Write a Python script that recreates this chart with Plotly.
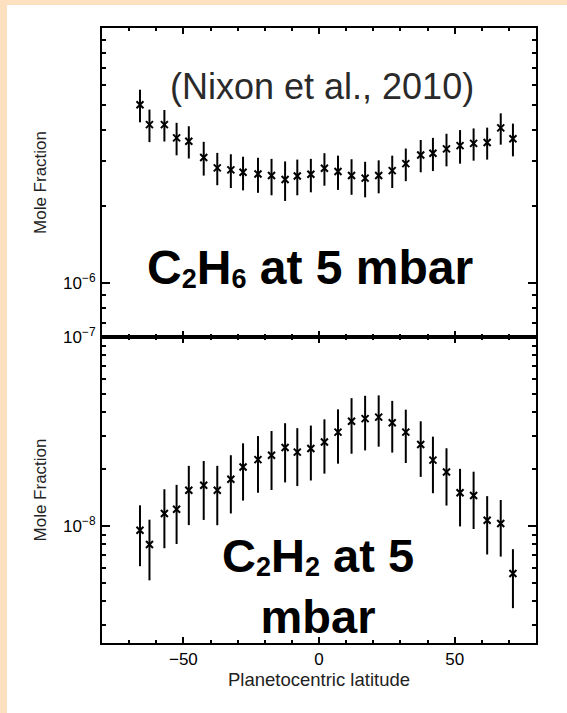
import plotly.graph_objects as go
from plotly.subplots import make_subplots

# ---- data ----
latitude = [-66, -62.5, -57, -52.5, -48, -42.5, -37.5, -32.5, -28, -22.5, -17.5, -12.5, -8, -3,
            2, 7, 12, 17, 22, 27, 32, 37.5, 42, 47, 52, 57, 62, 67, 71.5]

c2h6 = [5.0e-6, 4.18e-6, 4.18e-6, 3.71e-6, 3.60e-6, 3.11e-6, 2.83e-6, 2.78e-6, 2.72e-6, 2.68e-6,
        2.64e-6, 2.55e-6, 2.63e-6, 2.67e-6, 2.82e-6, 2.74e-6, 2.64e-6, 2.58e-6, 2.64e-6, 2.76e-6,
        2.94e-6, 3.18e-6, 3.23e-6, 3.36e-6, 3.46e-6, 3.53e-6, 3.56e-6, 4.06e-6, 3.68e-6]
c2h6_err = [0.73e-6, 0.61e-6, 0.59e-6, 0.54e-6, 0.52e-6, 0.47e-6, 0.41e-6, 0.42e-6, 0.41e-6, 0.42e-6,
            0.43e-6, 0.45e-6, 0.42e-6, 0.40e-6, 0.41e-6, 0.42e-6, 0.42e-6, 0.41e-6, 0.39e-6, 0.40e-6,
            0.43e-6, 0.46e-6, 0.48e-6, 0.49e-6, 0.52e-6, 0.51e-6, 0.51e-6, 0.57e-6, 0.54e-6]

c2h2 = [9.49e-9, 7.97e-9, 1.163e-8, 1.226e-8, 1.545e-8, 1.642e-8, 1.545e-8, 1.766e-8, 2.05e-8, 2.245e-8,
        2.366e-8, 2.60e-8, 2.46e-8, 2.57e-8, 2.78e-8, 3.14e-8, 3.58e-8, 3.70e-8, 3.77e-8, 3.52e-8,
        3.14e-8, 2.70e-8, 2.23e-8, 1.93e-8, 1.50e-8, 1.45e-8, 1.072e-8, 1.03e-8, 5.60e-9]
c2h2_err = [3.37e-9, 2.82e-9, 4.01e-9, 4.24e-9, 5.35e-9, 5.66e-9, 5.36e-9, 6.02e-9, 6.88e-9, 7.46e-9,
            8.16e-9, 9.0e-9, 8.34e-9, 8.30e-9, 8.88e-9, 1.003e-8, 1.169e-8, 1.188e-8, 1.142e-8, 1.074e-8,
            9.86e-9, 8.82e-9, 7.40e-9, 6.48e-9, 5.06e-9, 4.87e-9, 3.66e-9, 3.42e-9, 1.93e-9]

x_tickvals = [-50, 0, 50]
x_ticktext = ["\u221250", "0", "50"]
top_tickvals = [1e-6]
top_ticktext = ["10<sup>\u22126</sup>"]
bot_tickvals = [1e-8, 1e-7]
bot_ticktext = ["10<sup>\u22128</sup>", "10<sup>\u22127</sup>"]
top_minor = [7e-7, 8e-7, 9e-7] + [m * 1e-6 for m in range(2, 10)]
bot_minor = [m * 1e-9 for m in range(3, 10)] + [m * 1e-8 for m in range(2, 10)]

# ---- layout geometry (px) ----
W, H = 567, 713
ML, MR, MT, MB = 102, 31, 28, 70
PW, PH = W - ML - MR, H - MT - MB


def px_x(p):
    return (p - ML) / PW


def px_y(p):
    return (H - MB - p) / PH


FONT = "Liberation Sans, Arial, sans-serif"

fig = make_subplots(rows=2, cols=1, shared_xaxes=True, vertical_spacing=0,
                    row_heights=[309, 306])

marker = dict(symbol="x-thin", size=7, color="black", line=dict(width=2, color="black"))

fig.add_trace(go.Scatter(x=latitude, y=c2h6, mode="markers", marker=marker,
                         error_y=dict(type="data", array=c2h6_err, visible=True,
                                      color="black", thickness=2, width=0),
                         showlegend=False), row=1, col=1)
fig.add_trace(go.Scatter(x=latitude, y=c2h2, mode="markers", marker=marker,
                         error_y=dict(type="data", array=c2h2_err, visible=True,
                                      color="black", thickness=2, width=0),
                         showlegend=False), row=2, col=1)

tickfont = dict(family=FONT, size=17, color="black")
titlefont = dict(family=FONT, size=17, color="#222")

xcommon = dict(range=[-80, 80], showline=True, linewidth=2, linecolor="black", mirror="ticks",
               ticks="inside", ticklen=6, tickwidth=1.5, tickcolor="black",
               tickmode="array", tickvals=x_tickvals, ticktext=x_ticktext,
               minor=dict(dtick=10, tick0=0, ticks="inside", ticklen=3, tickwidth=1.5, tickcolor="black"),
               showgrid=False, zeroline=False, tickfont=tickfont, automargin=False)
fig.update_xaxes(**xcommon)
fig.update_xaxes(showticklabels=False, row=1, col=1)
fig.update_xaxes(showticklabels=True, title=dict(text="Planetocentric latitude", font=dict(
    family=FONT, size=18.5, color="#222"), standoff=2), row=2, col=1)

ycommon = dict(type="log", showline=True, linewidth=2, linecolor="black", mirror="ticks",
               ticks="inside", ticklen=8, tickwidth=1.5, tickcolor="black", showgrid=False,
               zeroline=False, tickfont=tickfont, automargin=False, tickmode="array",
               ticklabelstandoff=1,
               title=dict(text="Mole Fraction", font=titlefont, standoff=12))
fig.update_yaxes(**ycommon)
fig.update_yaxes(range=[-6.211, -5.0], tickvals=top_tickvals, ticktext=top_ticktext,
                 minor=dict(tickmode="array", tickvals=top_minor, ticks="inside", ticklen=4,
                            tickwidth=1.5, tickcolor="black"), row=1, col=1)
fig.update_yaxes(range=[-8.62, -6.9995], tickvals=bot_tickvals, ticktext=bot_ticktext,
                 minor=dict(tickmode="array", tickvals=bot_minor, ticks="inside", ticklen=4,
                            tickwidth=1.5, tickcolor="black"), row=2, col=1)

SUB = '<span style="font-size:27px;baseline-shift:-4px">{}</span>'

annotations = [
    dict(text="(Nixon et al., 2010)", x=px_x(322), y=px_y(86), xref="paper", yref="paper",
         xanchor="center", yanchor="middle", showarrow=False,
         font=dict(family=FONT, size=36, color="#2a2a2a")),
    dict(text="<b>C" + SUB.format("2") + "H" + SUB.format("6") + " at 5 mbar</b>",
         x=px_x(310), y=px_y(267),
         xref="paper", yref="paper", xanchor="center", yanchor="middle", showarrow=False,
         font=dict(family=FONT, size=48, color="black")),
    dict(text="<b>C" + SUB.format("2") + "H" + SUB.format("2") + " at 5<br>mbar</b>",
         x=px_x(318), y=px_y(586),
         xref="paper", yref="paper", xanchor="center", yanchor="middle", showarrow=False,
         align="center",
         font=dict(family=FONT, size=47, color="black")),
]

shapes = [
    dict(type="rect", xref="paper", yref="paper", x0=px_x(0), x1=px_x(7), y0=px_y(H), y1=px_y(0),
         fillcolor="#FCE0BF", line=dict(width=0), layer="above"),
    dict(type="rect", xref="paper", yref="paper", x0=px_x(0), x1=px_x(W), y0=px_y(5), y1=px_y(0),
         fillcolor="#FCE0BF", line=dict(width=0), layer="above"),
]

fig.update_layout(width=W, height=H, margin=dict(l=ML, r=MR, t=MT, b=MB),
                  paper_bgcolor="white", plot_bgcolor="white",
                  annotations=annotations, shapes=shapes, showlegend=False)

fig.write_html("out.html")
